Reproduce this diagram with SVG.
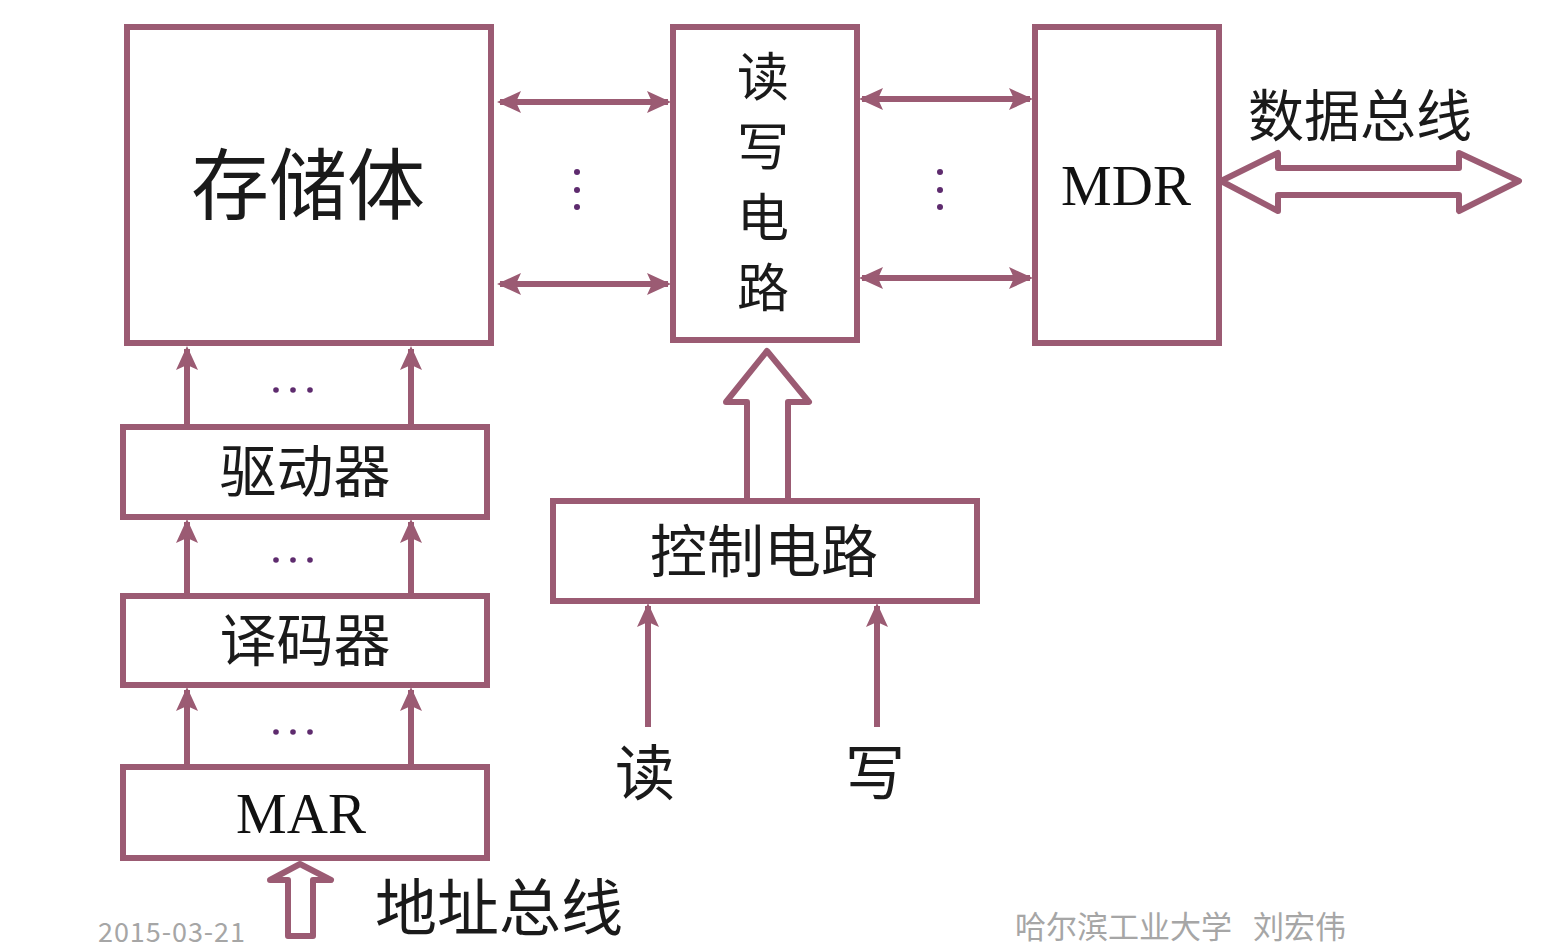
<svg xmlns="http://www.w3.org/2000/svg" width="1541" height="947" viewBox="0 0 1541 947">
<style>
.box{fill:#fff;stroke:#9b5b73;stroke-width:6}
.ln{fill:none;stroke:#9b5b73;stroke-width:6}
.hol{fill:#fff;stroke:#9b5b73;stroke-width:6;stroke-linejoin:round}
.cn{font-family:"Noto Sans CJK SC","Noto Sans CJK JP",sans-serif;fill:#1a1a1a;text-anchor:middle}
.se{font-family:"Liberation Serif",serif;fill:#111;text-anchor:middle}
.dot{fill:#5e2b6e}
.gray{font-family:"Noto Sans CJK SC",sans-serif;fill:#a6a6a6}
</style>
<defs>
<marker id="ah" viewBox="0 0 24 24" refX="21" refY="12" markerWidth="24" markerHeight="24" markerUnits="userSpaceOnUse" orient="auto-start-reverse">
<path d="M0,1 L24,12 L0,23 L5,12 z" fill="#9b5b73"/>
</marker>
</defs>
<g id="connectors">
<path class="ln" d="M500,102 H668" marker-start="url(#ah)" marker-end="url(#ah)"/>
<path class="ln" d="M500,284 H668" marker-start="url(#ah)" marker-end="url(#ah)"/>
<path class="ln" d="M862,99 H1030" marker-start="url(#ah)" marker-end="url(#ah)"/>
<path class="ln" d="M862,278 H1030" marker-start="url(#ah)" marker-end="url(#ah)"/>
<path class="ln" d="M187,427 V349" marker-end="url(#ah)"/>
<path class="ln" d="M411,427 V349" marker-end="url(#ah)"/>
<path class="ln" d="M187,596 V522" marker-end="url(#ah)"/>
<path class="ln" d="M411,596 V522" marker-end="url(#ah)"/>
<path class="ln" d="M187,767 V690" marker-end="url(#ah)"/>
<path class="ln" d="M411,767 V690" marker-end="url(#ah)"/>
<path class="ln" d="M648,727 V606" marker-end="url(#ah)"/>
<path class="ln" d="M877,727 V606" marker-end="url(#ah)"/>
<path class="hol" d="M1221,181 L1278,153 L1278,168 L1459,168 L1459,153 L1519,181 L1459,211 L1459,195 L1278,195 L1278,211 Z"/>
<path class="hol" d="M747,499 L747,402 L726,402 L767,351 L809,402 L788,402 L788,499"/>
<path class="hol" d="M288,936 L288,880 L270,880 L300,864 L331,880 L313,880 L313,936 Z"/>
<circle class="dot" cx="577" cy="172" r="3"/><circle class="dot" cx="577" cy="190" r="3"/><circle class="dot" cx="577" cy="207" r="3"/>
<circle class="dot" cx="940" cy="172" r="3"/><circle class="dot" cx="940" cy="190" r="3"/><circle class="dot" cx="940" cy="207" r="3"/>
<circle class="dot" cx="276" cy="390" r="2.8"/><circle class="dot" cx="293" cy="390" r="2.8"/><circle class="dot" cx="310" cy="390" r="2.8"/>
<circle class="dot" cx="276" cy="560" r="2.8"/><circle class="dot" cx="293" cy="560" r="2.8"/><circle class="dot" cx="310" cy="560" r="2.8"/>
<circle class="dot" cx="276" cy="732" r="2.8"/><circle class="dot" cx="293" cy="732" r="2.8"/><circle class="dot" cx="310" cy="732" r="2.8"/>
</g>
<g id="storage">
<rect class="box" x="127" y="27" width="364" height="316"/>
<text class="cn" x="308" y="214" font-size="78">存储体</text>
</g>
<g id="rw">
<rect class="box" x="673" y="27" width="184" height="313"/>
<text class="cn" x="763" y="96" font-size="52">读</text>
<text class="cn" x="763" y="166" font-size="52">写</text>
<text class="cn" x="763" y="237" font-size="52">电</text>
<text class="cn" x="763" y="307" font-size="52">路</text>
</g>
<g id="mdr">
<rect class="box" x="1035" y="27" width="184" height="316"/>
<text class="se" x="1126" y="205" font-size="57">MDR</text>
</g>
<g id="databus">
<text class="cn" x="1360" y="136" font-size="56">数据总线</text>
</g>
<g id="driver">
<rect class="box" x="123" y="427" width="364" height="90"/>
<text class="cn" x="305" y="492" font-size="57">驱动器</text>
</g>
<g id="decoder">
<rect class="box" x="123" y="596" width="364" height="89"/>
<text class="cn" x="305" y="661" font-size="57">译码器</text>
</g>
<g id="mar">
<rect class="box" x="123" y="767" width="364" height="91"/>
<text class="se" x="301" y="833" font-size="57">MAR</text>
</g>
<g id="ctrl">
<rect class="box" x="553" y="501" width="424" height="100"/>
<text class="cn" x="764" y="572" font-size="57">控制电路</text>
</g>
<g id="read"><text class="cn" x="645" y="795" font-size="60">读</text></g>
<g id="write"><text class="cn" x="875" y="795" font-size="60">写</text></g>
<g id="addrbus"><text class="cn" x="499" y="931" font-size="62">地址总线</text></g>
<text class="gray" x="98" y="942" font-size="27" textLength="147" font-family="Liberation Sans,sans-serif">2015-03-21</text>
<text class="gray" x="1015" y="938" font-size="31">哈尔滨工业大学</text>
<text class="gray" x="1253" y="938" font-size="31">刘宏伟</text>
</svg>
